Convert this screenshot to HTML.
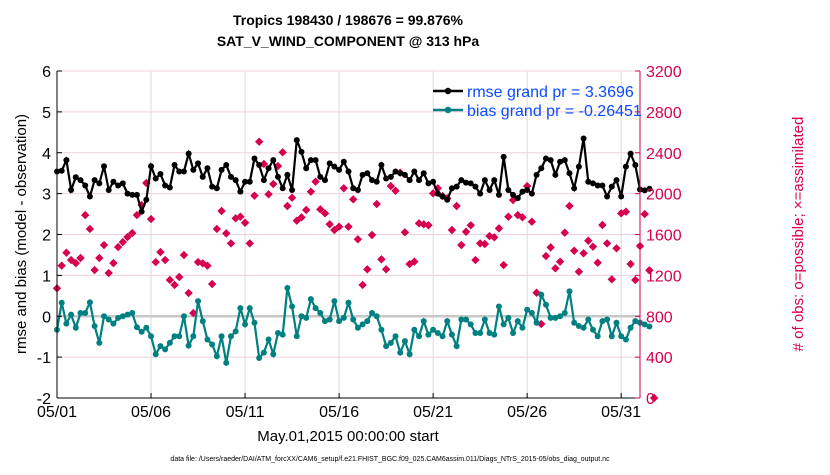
<!DOCTYPE html>
<html><head><meta charset="utf-8"><style>
body{margin:0;background:#fff;width:830px;height:470px;overflow:hidden;font-family:"Liberation Sans",sans-serif}
</style></head><body>
<svg id="chart" width="830" height="470" xmlns="http://www.w3.org/2000/svg" font-family="Liberation Sans, sans-serif">
<text x="348" y="25" text-anchor="middle" font-size="14" font-weight="bold">Tropics 198430 / 198676 = 99.876%</text>
<text x="348" y="46" text-anchor="middle" font-size="14" font-weight="bold">SAT_V_WIND_COMPONENT @ 313 hPa</text>
<g id="grid"></g>
<g id="series"></g>
<g id="axes"></g>
<text transform="translate(26,234) rotate(-90)" text-anchor="middle" font-size="15">rmse and bias (model - observation)</text>
<text transform="translate(803,234) rotate(-90)" text-anchor="middle" font-size="15" fill="#d6004f"># of obs: o=possible; ×=assimilated</text>
<text x="348" y="441" text-anchor="middle" font-size="15">May.01,2015 00:00:00 start</text>
<text x="390" y="461" text-anchor="middle" font-size="7">data file: /Users/raeder/DAI/ATM_forcXX/CAM6_setup/f.e21.FHIST_BGC.f09_025.CAM6assim.011/Diags_NTrS_2015-05/obs_diag_output.nc</text>
<g>
<line x1="433" y1="91" x2="463" y2="91" stroke="#000" stroke-width="2.5"/><circle cx="448" cy="91" r="3.2" fill="#000"/>
<text x="467" y="97" font-size="16" fill="#0a4bff">rmse grand pr = 3.3696</text>
<line x1="433" y1="110" x2="463" y2="110" stroke="#008080" stroke-width="2.5"/><circle cx="448" cy="110" r="3.2" fill="#008080"/>
<text x="467" y="116" font-size="16" fill="#0a4bff">bias grand pr = -0.26451</text>
</g>
</svg>
<script>
const rmse=[3.54,3.56,3.82,3.09,3.4,3.33,3.2,2.93,3.33,3.25,3.67,3.09,3.29,3.2,3.25,3.0,2.97,2.97,2.56,2.85,3.67,3.37,3.48,3.2,3.15,3.7,3.54,3.54,3.98,3.58,3.74,
3.41,3.62,3.17,3.13,3.58,3.7,3.41,3.33,3.05,3.29,3.29,3.86,3.7,3.33,3.62,3.82,3.41,3.13,3.46,3.09,4.31,4.02,3.62,3.82,3.82,3.41,3.33,3.74,3.66,3.58,3.78,
3.54,3.13,3.09,3.46,3.5,3.33,3.29,3.7,3.37,3.41,3.54,3.5,3.46,3.33,3.54,3.33,3.5,3.25,3.29,3.0,2.93,2.85,3.13,3.17,3.33,3.27,3.25,3.17,3.0,3.33,
3.09,3.33,2.97,3.9,3.09,2.97,2.89,3.05,3.09,3.0,3.46,3.62,3.86,3.82,3.46,3.78,3.82,3.5,3.13,3.66,4.35,3.29,3.25,3.2,3.2,2.93,3.17,3.33,2.93,3.66,3.98,3.7,3.1,3.08,3.12];
const bias=[-0.33,0.33,-0.18,0.04,-0.28,0.08,0.08,0.34,-0.24,-0.65,0,-0.08,-0.18,-0.04,0,0.04,0.08,-0.27,-0.38,-0.28,-0.49,-0.93,-0.73,-0.81,-0.65,-0.49,-0.49,0,-0.72,-0.49,0.37,
-0.12,-0.57,-0.69,-0.98,-0.49,-1.14,-0.49,-0.37,0.2,-0.2,0.2,-0.16,-1.02,-0.89,-0.57,-0.93,-0.41,-0.45,0.69,0.24,-0.49,0,-0.04,0.42,0.2,0.08,-0.12,-0.08,0.37,-0.12,-0.04,
0.33,-0.08,-0.28,-0.2,-0.12,0.08,0,-0.33,-0.73,-0.65,-0.49,-0.89,-0.61,-0.93,-0.33,-0.49,-0.12,-0.45,-0.33,-0.41,-0.49,-0.12,-0.45,-0.73,-0.08,-0.08,-0.2,-0.41,-0.41,-0.08,
-0.41,-0.45,0.24,-0.2,-0.04,-0.41,-0.12,-0.28,0.16,0.08,-0.16,0.53,0.28,-0.04,-0.04,0,0.08,0.61,-0.16,-0.24,-0.28,-0.08,-0.33,-0.49,-0.12,-0.08,-0.49,-0.16,-0.49,-0.57,-0.28,-0.12,-0.16,-0.2,-0.25];
const counts=[1073,1295,1422,1350,1320,1370,1790,1654,1252,1370,1497,1223,1320,1477,1526,1575,1614,1790,1888,2104,1751,1330,1428,1350,1155,1106,1184,1399,1027,831,1330,
1318,1295,1115,1654,1830,1611,1513,1758,1774,1715,1513,1980,2508,2290,1993,2094,2270,2404,1879,1960,1735,1768,1840,2019,2117,1846,1807,1700,1644,1676,2052,
1676,1944,1553,1106,1259,1595,1898,1357,1259,2074,2028,2205,1621,1311,1334,1709,1700,1690,2003,2052,1976,1954,1644,1879,1497,1627,1690,1350,1513,1507,1585,
1572,1660,1301,1774,1937,1790,1768,2074,1725,1030,724,1389,1474,1269,1334,1618,1879,1441,1236,1416,1539,1481,1324,1693,1513,1161,1465,1807,1823,1311,1155,1487,1800,1250,0];
const xTickLabels=["05/01","05/06","05/11","05/16","05/21","05/26","05/31"];
const xTickDays=[0,5,10,15,20,25,30];
const yTicks=[-2,-1,0,1,2,3,4,5,6];
const y2Ticks=[0,400,800,1200,1600,2000,2400,2800,3200];

const L=57,R=640,T=71,B=398, DAYS=31;
const xs=d=>L+(d/DAYS)*(R-L);
const ys=v=>B-(v+2)/8*(B-T);
const ys2=c=>B-c/3200*(B-T);
const NS="http://www.w3.org/2000/svg";
function mk(tag,attrs,parent){const e=document.createElementNS(NS,tag);for(const k in attrs)e.setAttribute(k,attrs[k]);parent.appendChild(e);return e;}
const grid=document.getElementById('grid'),ser=document.getElementById('series'),ax=document.getElementById('axes');
mk('rect',{x:L,y:T,width:R-L,height:B-T,fill:'#fff'},grid);
y2Ticks.forEach(c=>{const l=mk('line',{x1:L,x2:R,y1:ys2(c),y2:ys2(c),stroke:'#f0cfdc','stroke-width':1},grid);

});
xTickDays.forEach(d=>{const l=mk('line',{x1:xs(d),x2:xs(d),y1:T,y2:B,stroke:'#dcdcdc','stroke-width':1},grid);

});
const zl=mk('line',{x1:L,x2:R,y1:ys(0),y2:ys(0),stroke:'#c8c8c8','stroke-width':2.5},grid);


// counts
counts.forEach((c,i)=>{const d=i*0.25,x=xs(d),y=ys2(c),s=4.2;
const p=mk('polygon',{points:`${x},${y-s} ${x+s},${y} ${x},${y+s} ${x-s},${y}`,fill:'#d6004f'},ser);

});
function line(arr,color,name){
const pts=arr.map((v,i)=>xs(i*0.25)+','+ys(v)).join(' ');
const pl=mk('polyline',{points:pts,fill:'none',stroke:color,'stroke-width':2.2},ser);


arr.forEach((v,i)=>{const c=mk('circle',{cx:xs(i*0.25),cy:ys(v),r:3,fill:color},ser);

});}
line(rmse,'#000','rmse');
line(bias,'#008080','bias');
// axes
mk('line',{x1:L,x2:L,y1:T,y2:B,stroke:'#000','stroke-width':1},ax);
mk('line',{x1:L,x2:R,y1:B,y2:B,stroke:'#000','stroke-width':1},ax);
mk('line',{x1:R,x2:R,y1:T,y2:B,stroke:'#d6004f','stroke-width':1},ax);
yTicks.forEach(v=>{mk('line',{x1:L,x2:L+5,y1:ys(v),y2:ys(v),stroke:'#000'},ax);
const t=mk('text',{x:L-6,y:ys(v)+6,'text-anchor':'end','font-size':16},ax);t.textContent=v;

});
y2Ticks.forEach(c=>{mk('line',{x1:R-5,x2:R,y1:ys2(c),y2:ys2(c),stroke:'#d6004f'},ax);
const t=mk('text',{x:R+6,y:ys2(c)+6,'font-size':16,fill:'#d6004f'},ax);t.textContent=c;

});
xTickDays.forEach((d,i)=>{mk('line',{x1:xs(d),x2:xs(d),y1:B-5,y2:B,stroke:'#000'},ax);
const t=mk('text',{x:xs(d),y:B+19,'text-anchor':'middle','font-size':16},ax);t.textContent=xTickLabels[i];

});
</script>
</body></html>
